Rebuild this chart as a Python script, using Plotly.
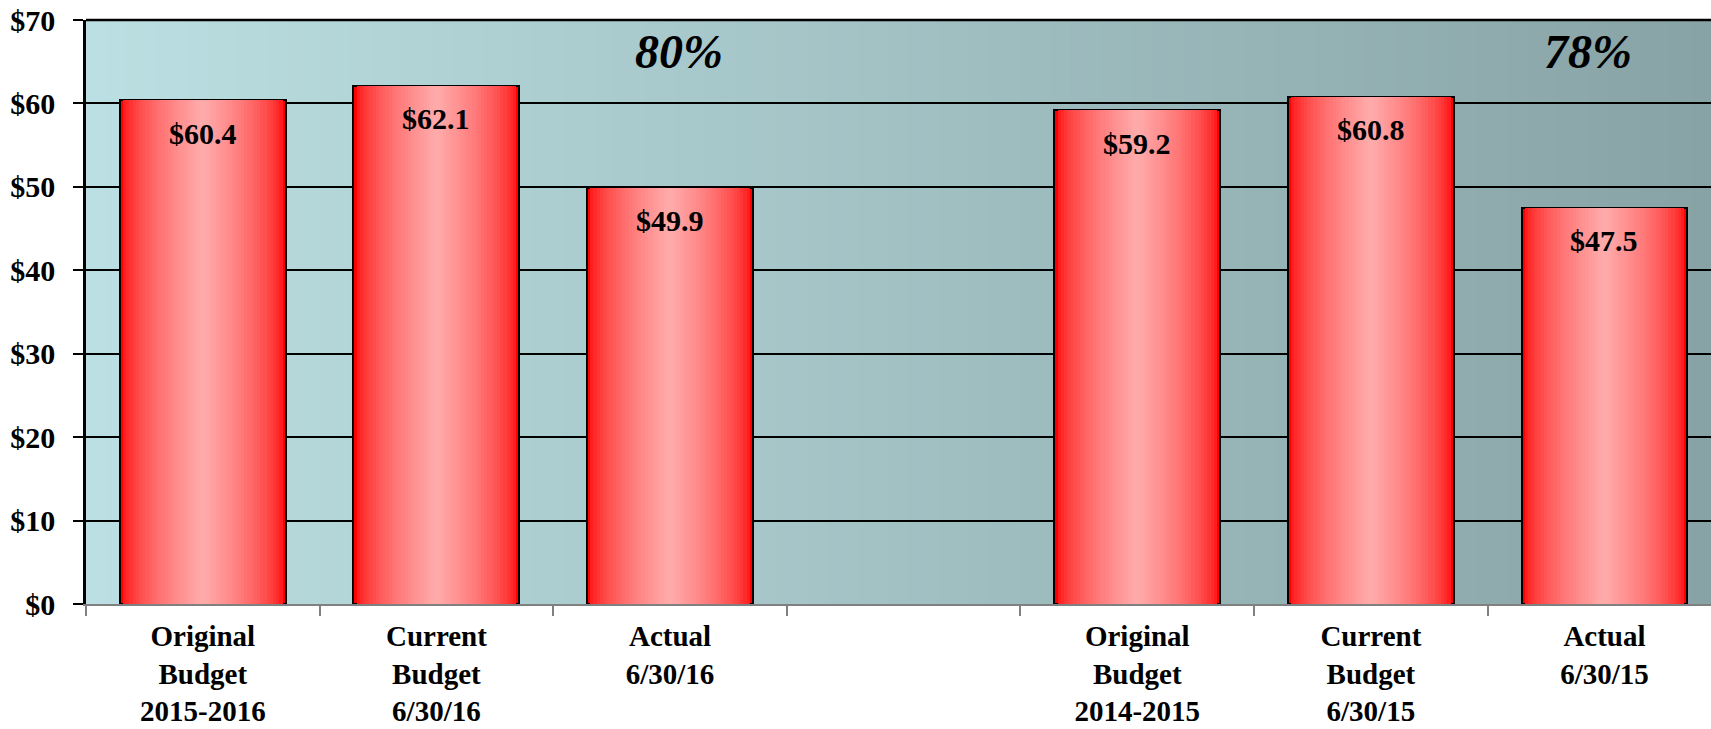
import plotly.graph_objects as go

# ---- data ----
categories = ["Original<br>Budget<br>2015-2016", "Current<br>Budget<br>6/30/16", "Actual<br>6/30/16", "",
              "Original<br>Budget<br>2014-2015", "Current<br>Budget<br>6/30/15", "Actual<br>6/30/15"]
values = [60.4, 62.1, 49.9, None, 59.2, 60.8, 47.5]
pct_labels = ["80%", "78%"]
pct_x = [2.04, 5.93]
pct_y = [66.2, 66.2]
y_ticks = [0, 10, 20, 30, 40, 50, 60, 70]

xs = list(range(len(categories)))
bar_x = [x for x, v in zip(xs, values) if v is not None]
bar_v = [v for v in values if v is not None]

FONT = "Liberation Serif"

fig = go.Figure()

# gradient bars: overlaid bars of decreasing width
N = 26
W = 0.71
edge = (255, 0, 0)
center = (255, 170, 170)
for k in range(N):
    t = k / (N - 1)
    e = t ** 0.55
    col = tuple(round(edge[i] + (center[i] - edge[i]) * e) for i in range(3))
    w = W * (1 - k / N)
    fig.add_trace(go.Bar(
        x=bar_x, y=bar_v, width=w,
        marker=dict(color="rgb(%d,%d,%d)" % col,
                    line=dict(color="black", width=2 if k == 0 else 0)),
        hoverinfo="skip", showlegend=False,
    ))

# value labels
for x, v in zip(bar_x, bar_v):
    fig.add_annotation(x=x, y=v, text="$%.1f" % v, showarrow=False,
                       yanchor="middle", yshift=-33,
                       font=dict(family=FONT, size=30, color="black", weight=700))

# percentage labels
for x, y, t in zip(pct_x, pct_y, pct_labels):
    fig.add_annotation(x=x, y=y, text=t, showarrow=False, yanchor="middle",
                       font=dict(family=FONT, size=48, color="black", weight=700, style="italic"))

# background gradient stripes
S = 160
c0 = (187, 223, 226)
c1 = (136, 163, 165)
shapes = []
for i in range(S):
    t = i / (S - 1)
    c = tuple(round(c0[j] + (c1[j] - c0[j]) * t) for j in range(3))
    shapes.append(dict(type="rect", xref="paper", yref="paper",
                       x0=i / S, x1=(i + 1.6) / S, y0=0, y1=1,
                       fillcolor="rgb(%d,%d,%d)" % c, line=dict(width=0), layer="below"))
# top border
shapes.append(dict(type="line", xref="paper", yref="paper", x0=0, x1=1, y0=1, y1=1,
                   line=dict(color="black", width=2.5)))

fig.update_layout(
    width=1711, height=729,
    margin=dict(l=86, r=0, t=20, b=125),
    paper_bgcolor="white",
    plot_bgcolor="rgba(0,0,0,0)",
    barmode="overlay",
    bargap=0,
    shapes=shapes,
    showlegend=False,
    font=dict(family=FONT, size=30, color="black"),
)

fig.update_xaxes(
    range=[-0.5, 6.456],
    automargin=False,
    tickmode="array", tickvals=xs, ticktext=categories,
    ticks="", showgrid=False, zeroline=False,
    showline=True, linecolor="#808080", linewidth=2,
    tickfont=dict(family=FONT, size=29, color="black", weight=700),
    ticklabelstandoff=5,
    minor=dict(tickmode="array", tickvals=[x - 0.5 for x in range(8)],
               ticks="outside", ticklen=10, tickcolor="#808080", tickwidth=2, showgrid=False),
)

fig.update_yaxes(
    range=[0, 70],
    automargin=False,
    tickmode="array", tickvals=y_ticks, ticktext=["$%d" % v for v in y_ticks],
    ticks="outside", ticklen=10, tickcolor="black", tickwidth=2,
    showgrid=True, gridcolor="black", gridwidth=1.5,
    zeroline=False,
    showline=True, linecolor="black", linewidth=2.5,
    tickfont=dict(family=FONT, size=30, color="black", weight=700),
    ticklabelstandoff=12,
)

fig.write_html("out.html",
               config={"displayModeBar": False},
               post_script="document.body.style.margin='0';document.body.style.overflow='hidden';")
